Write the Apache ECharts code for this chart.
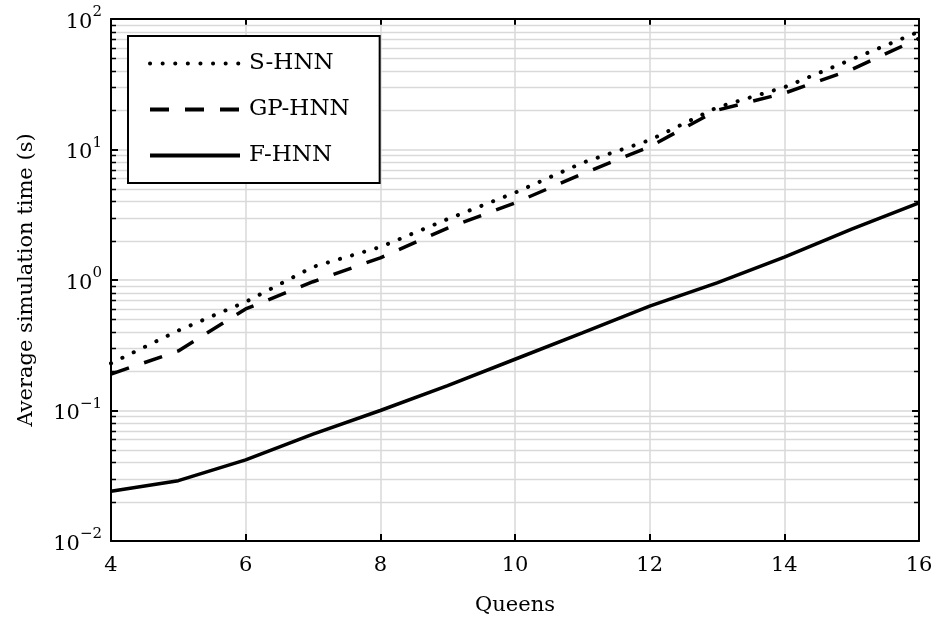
<!DOCTYPE html>
<html>
<head>
<meta charset="utf-8">
<script src="https://cdn.jsdelivr.net/npm/echarts@6/dist/echarts.min.js"></script>
<style>html,body{margin:0;padding:0;background:#fff;}#c{width:937px;height:624px;}</style>
</head>
<body>
<div id="c"></div>
<script>
const queens = [4, 5, 6, 7, 8, 9, 10, 11, 12, 13, 14, 15, 16];
const sHNN  = [0.23, 0.41, 0.68, 1.26, 1.79, 2.93, 4.67, 7.9, 11.8, 21, 30, 49, 80];
const gpHNN = [0.19, 0.286, 0.6, 0.97, 1.48, 2.5, 3.9, 6.5, 10.5, 20, 27, 41, 71];
const fHNN  = [0.0241, 0.029, 0.0418, 0.066, 0.1, 0.155, 0.247, 0.394, 0.63, 0.95, 1.5, 2.45, 3.9];
const seriesNames = ['S-HNN', 'GP-HNN', 'F-HNN'];
const xTicks = [4, 6, 8, 10, 12, 14, 16];
const yMajorTicks = [0.01, 0.1, 1, 10, 100];
const yMinorTicks = [];
for (let d = -2; d <= 1; d++) {
  for (let m = 2; m <= 9; m++) yMinorTicks.push(+(m * Math.pow(10, d)).toPrecision(3));
}

const FONT = 'DejaVu Serif';
const GRID_COLOR = '#d9d9d9';
const chart = echarts.init(document.getElementById('c'), null, {renderer: 'canvas'});

const tickCommon = {show: true, inside: true, length: 7, lineStyle: {color: '#000', width: 2}};
const axisLineCommon = {show: true, lineStyle: {color: '#000', width: 2}};

function pair(a) { return queens.map((q, i) => [q, a[i]]); }

const dotted = {color: '#000', width: 4, type: [0.1, 12.5], cap: 'round'};
const dashed = {color: '#000', width: 3.5, type: [19, 16]};
const solid = {color: '#000', width: 3.5};

chart.setOption({
  animation: false,
  backgroundColor: '#fff',
  grid: {left: 111, right: 18, top: 19, bottom: 83, containLabel: false},
  legend: {
    data: seriesNames.map(n => ({name: n})),
    orient: 'vertical',
    left: 128, top: 36,
    itemWidth: 90, itemHeight: 20, itemGap: 23,
    padding: [16, 30, 16, 20],
    borderColor: '#000', borderWidth: 2,
    backgroundColor: '#fff',
    itemStyle: {opacity: 0},
    lineStyle: {width: 4},
    textStyle: {fontFamily: FONT, fontSize: 23, color: '#000', padding: [0, 0, 0, 4]},
    z: 10
  },
  xAxis: [{
    type: 'value', min: 4, max: 16, interval: 2, position: 'bottom',
    name: 'Queens', nameLocation: 'middle', nameGap: 54,
    nameTextStyle: {fontFamily: FONT, fontSize: 21, color: '#000'},
    axisLine: axisLineCommon, axisTick: tickCommon,
    axisLabel: {fontFamily: FONT, fontSize: 21, color: '#000', margin: 14},
    splitLine: {show: true, lineStyle: {color: GRID_COLOR, width: 1.5}}
  }, {
    type: 'value', min: 4, max: 16, interval: 2, position: 'top',
    axisLine: axisLineCommon, axisTick: tickCommon,
    axisLabel: {show: false}, splitLine: {show: false}
  }],
  yAxis: [{
    type: 'log', logBase: 10, min: 0.01, max: 100, splitNumber: 4, position: 'left',
    name: 'Average simulation time (s)', nameLocation: 'middle', nameGap: 74, nameRotate: 90,
    nameTextStyle: {fontFamily: FONT, fontSize: 21, color: '#000'},
    axisLine: axisLineCommon, axisTick: tickCommon,
    axisLabel: {
      margin: 9,
      formatter: function (v) {
        const e = Math.round(Math.log10(v));
        return '{b|10}{s|' + (e < 0 ? '\u2212' + (-e) : e) + '}';
      },
      rich: {
        b: {fontFamily: FONT, fontSize: 21, color: '#000', lineHeight: 28, verticalAlign: 'bottom'},
        s: {fontFamily: FONT, fontSize: 15, color: '#000', lineHeight: 15, verticalAlign: 'top'}
      }
    },
    splitLine: {show: true, lineStyle: {color: GRID_COLOR, width: 1.5}}
  }, {
    type: 'log', logBase: 10, min: 0.01, max: 100, splitNumber: 4, position: 'right',
    axisLine: axisLineCommon, axisTick: tickCommon,
    axisLabel: {show: false}, splitLine: {show: false}
  }],
  series: [{
    type: 'custom', name: 'minor', silent: true, z: 1, clip: false,
    xAxisIndex: 0, yAxisIndex: 0,
    data: yMinorTicks.map(v => [4, v]),
    renderItem: function (params, api) {
      const pt = api.coord([api.value(0), api.value(1)]);
      const cs = params.coordSys;
      const y = Math.round(pt[1]) + 0.5;
      return {type: 'group', children: [
        {type: 'line', shape: {x1: cs.x + 1, y1: y, x2: cs.x + cs.width - 1, y2: y},
          style: {stroke: GRID_COLOR, lineWidth: 1.5}},
        {type: 'line', shape: {x1: cs.x, y1: y, x2: cs.x + 5, y2: y},
          style: {stroke: '#000', lineWidth: 1.5}},
        {type: 'line', shape: {x1: cs.x + cs.width - 5, y1: y, x2: cs.x + cs.width, y2: y},
          style: {stroke: '#000', lineWidth: 1.5}}
      ]};
    }
  }, {
    name: 'S-HNN', type: 'line', data: pair(sHNN), symbol: 'none', z: 3,
    lineStyle: dotted, itemStyle: {color: '#000'}
  }, {
    name: 'GP-HNN', type: 'line', data: pair(gpHNN), symbol: 'none', z: 3,
    lineStyle: dashed, itemStyle: {color: '#000'}
  }, {
    name: 'F-HNN', type: 'line', data: pair(fHNN), symbol: 'none', z: 3,
    lineStyle: solid, itemStyle: {color: '#000'}
  }]
});
</script>
</body>
</html>
